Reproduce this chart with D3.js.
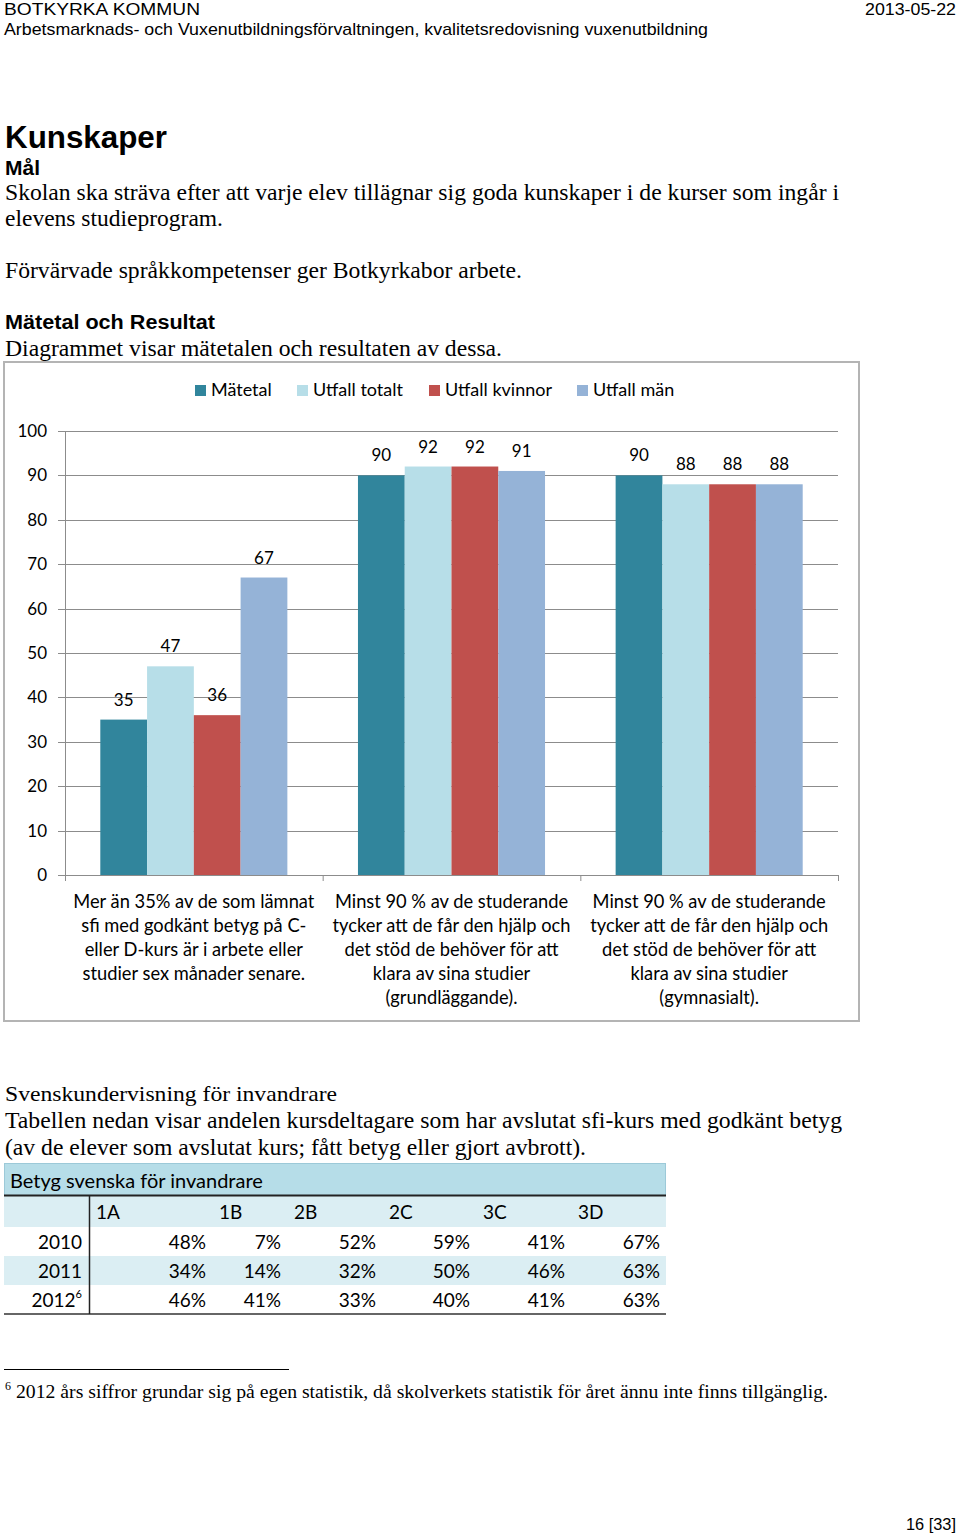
<!DOCTYPE html>
<html>
<head>
<meta charset="utf-8">
<script src="https://cdn.jsdelivr.net/npm/d3@7"></script>
<style>
  body { margin: 0; background: #fff; }
  svg { display: block; }
</style>
</head>
<body>
<svg id="page" width="960" height="1536"></svg>
<script>
// chart data
let seriesNames = ["Mätetal", "Utfall totalt", "Utfall kvinnor", "Utfall män"]
let seriesColors = ["#31859c", "#b7dee8", "#c0504d", "#95b3d7"]
let categories = ["sfi", "grund", "gymn"]
let categoryLines = [
  ["Mer än 35% av de som lämnat", "sfi med godkänt betyg på C-", "eller D-kurs är i arbete eller", "studier sex månader senare."],
  ["Minst 90 % av de studerande", "tycker att de får den hjälp och", "det stöd de behöver för att", "klara av sina studier", "(grundläggande)."],
  ["Minst 90 % av de studerande", "tycker att de får den hjälp och", "det stöd de behöver för att", "klara av sina studier", "(gymnasialt)."]
]
let matetal = [35, 90, 90]
let utfallTotalt = [47, 92, 88]
let utfallKvinnor = [36, 92, 88]
let utfallMan = [67, 91, 88]
let yTicks = [0, 10, 20, 30, 40, 50, 60, 70, 80, 90, 100]

// table data
let tableTitle = "Betyg svenska för invandrare"
let courses = ["1A", "1B", "2B", "2C", "3C", "3D"]
let years = ["2010", "2011", "2012"]
let yearNotes = ["", "", "6"]
let grades2010 = ["48%", "7%", "52%", "59%", "41%", "67%"]
let grades2011 = ["34%", "14%", "32%", "50%", "46%", "63%"]
let grades2012 = ["46%", "41%", "33%", "40%", "41%", "63%"]

let svg = d3.select("#page")
svg.append("rect").attr("width", 960).attr("height", 1536).attr("fill", "#fff")

let sans = "'Liberation Sans', Arial, sans-serif"
let serif = "'Liberation Serif', 'Times New Roman', serif"
let cal = "Lato, 'Open Sans', sans-serif"

// page text: [text, x, baseline, size, family, weight, width, anchor]
let pageText = [
  ["BOTKYRKA KOMMUN", 4, 15, 17, sans, "normal", 196, "start"],
  ["2013-05-22", 956, 15, 17, sans, "normal", 91, "end"],
  ["Arbetsmarknads- och Vuxenutbildningsförvaltningen, kvalitetsredovisning vuxenutbildning", 4, 35, 17, sans, "normal", 704, "start"],
  ["Kunskaper", 5, 148, 32, sans, "bold", 162, "start"],
  ["Mål", 5, 175, 20, sans, "bold", 35, "start"],
  ["Skolan ska sträva efter att varje elev tillägnar sig goda kunskaper i de kurser som ingår i", 5, 200, 23, serif, "normal", 834, "start"],
  ["elevens studieprogram.", 5, 226, 23, serif, "normal", 218, "start"],
  ["Förvärvade språkkompetenser ger Botkyrkabor arbete.", 5, 278, 23, serif, "normal", 517, "start"],
  ["Mätetal och Resultat", 5, 329, 20, sans, "bold", 210, "start"],
  ["Diagrammet visar mätetalen och resultaten av dessa.", 5, 356, 23, serif, "normal", 497, "start"],
  ["Svenskundervisning för invandrare", 5, 1101, 22, serif, "normal", 332, "start"],
  ["Tabellen nedan visar andelen kursdeltagare som har avslutat sfi-kurs med godkänt betyg", 5, 1128, 23, serif, "normal", 837, "start"],
  ["(av de elever som avslutat kurs; fått betyg eller gjort avbrott).", 5, 1155, 23, serif, "normal", 581, "start"],
  ["2012 års siffror grundar sig på egen statistik, då skolverkets statistik för året ännu inte finns tillgänglig.", 16, 1398, 19, serif, "normal", 812, "start"],
  ["16 [33]", 956, 1530, 17, sans, "normal", 50, "end"]
]

svg.selectAll("text.page").data(pageText).enter().append("text")
  .classed("page", true)
  .attr("x", d => d[1]).attr("y", d => d[2])
  .attr("font-size", d => d[3]).attr("font-family", d => d[4]).attr("font-weight", d => d[5])
  .attr("textLength", d => d[6]).attr("lengthAdjust", "spacingAndGlyphs")
  .attr("text-anchor", d => d[7])
  .attr("fill", "#000")
  .text(d => d[0])

// footnote marker and rule
svg.append("text").attr("x", 5).attr("y", 1390).attr("font-size", 12).attr("font-family", serif).text("6")
svg.append("line").attr("x1", 4).attr("x2", 289).attr("y1", 1369.5).attr("y2", 1369.5).attr("stroke", "#000").attr("stroke-width", 1)

// ---------- chart ----------
svg.append("rect").attr("x", 4).attr("y", 362).attr("width", 855).attr("height", 659)
  .attr("fill", "#fff").attr("stroke", "#b4b4b4").attr("stroke-width", 2)

let plotLeft = 65, plotRight = 838
let y = d3.scaleLinear().domain([0, 100]).range([875, 431])
let x0 = d3.scaleBand().domain(categories).range([plotLeft, plotRight])
let x1 = d3.scaleBand().domain(seriesNames).range([x0.bandwidth() * 0.137, x0.bandwidth() * 0.863])

let chart = svg.append("g")

// gridlines
chart.selectAll("line.grid").data(yTicks).enter().append("line")
  .attr("x1", plotLeft - 7).attr("x2", plotRight)
  .attr("y1", d => Math.round(y(d)) + 0.5).attr("y2", d => Math.round(y(d)) + 0.5)
  .attr("stroke", "#8c8c8c").attr("stroke-width", 1)

chart.append("line").attr("x1", plotLeft + 0.5).attr("x2", plotLeft + 0.5)
  .attr("y1", y(100)).attr("y2", y(0) + 6).attr("stroke", "#8c8c8c")

// category ticks
chart.selectAll("line.ctick").data(categories).enter().append("line")
  .attr("x1", d => x0(d) + x0.bandwidth() + 0.5).attr("x2", d => x0(d) + x0.bandwidth() + 0.5)
  .attr("y1", y(0)).attr("y2", y(0) + 6).attr("stroke", "#8c8c8c")

chart.selectAll("text.ytick").data(yTicks).enter().append("text")
  .attr("x", 47).attr("y", d => y(d) + 6)
  .attr("text-anchor", "end").attr("font-family", cal).attr("font-size", 17).attr("fill", "#000")
  .text(d => d)

// bars
let barData = []
categories.forEach(function (c, i) {
  barData.push({ cat: c, s: seriesNames[0], v: matetal[i], color: seriesColors[0] })
  barData.push({ cat: c, s: seriesNames[1], v: utfallTotalt[i], color: seriesColors[1] })
  barData.push({ cat: c, s: seriesNames[2], v: utfallKvinnor[i], color: seriesColors[2] })
  barData.push({ cat: c, s: seriesNames[3], v: utfallMan[i], color: seriesColors[3] })
})

chart.selectAll("rect.bar").data(barData).enter().append("rect")
  .attr("x", d => x0(d.cat) + x1(d.s))
  .attr("y", d => y(d.v))
  .attr("width", x1.bandwidth())
  .attr("height", d => y(0) - y(d.v))
  .attr("fill", d => d.color)

chart.selectAll("text.label").data(barData).enter().append("text")
  .attr("x", d => x0(d.cat) + x1(d.s) + x1.bandwidth() / 2)
  .attr("y", d => y(d.v) - 14)
  .attr("text-anchor", "middle").attr("font-family", cal).attr("font-size", 17).attr("fill", "#000")
  .text(d => d.v)

// category labels
let catGroups = chart.selectAll("text.cat").data(categories).enter().append("text")
  .attr("text-anchor", "middle").attr("font-family", cal).attr("font-size", 18.3).attr("fill", "#000")

catGroups.selectAll("tspan").data((d, i) => categoryLines[i].map(t => ({ t: t, cat: d })))
  .enter().append("tspan")
  .attr("x", d => x0(d.cat) + x0.bandwidth() / 2)
  .attr("y", (d, i) => 908 + i * 24)
  .text(d => d.t)

// legend
let legendX = [195, 297, 429, 577]
let legend = chart.selectAll("g.legend").data(seriesNames).enter().append("g")
  .attr("transform", (d, i) => `translate(${legendX[i]},385)`)
legend.append("rect").attr("width", 11).attr("height", 11).attr("fill", (d, i) => seriesColors[i])
legend.append("text").attr("x", 16).attr("y", 11).attr("font-family", cal).attr("font-size", 18).attr("fill", "#000")
  .text(d => d)

// ---------- table ----------
let colEdges = [4, 89, 212, 287, 382, 476, 571, 666]
let rowTops = [1163, 1196, 1227, 1256, 1285, 1314]
let rowFill = ["#b6dde8", "#dbeef3", "#ffffff", "#dbeef3", "#ffffff"]
let table = svg.append("g")

table.selectAll("rect.row").data(rowFill).enter().append("rect")
  .attr("x", colEdges[0]).attr("width", colEdges[7] - colEdges[0])
  .attr("y", (d, i) => rowTops[i]).attr("height", (d, i) => rowTops[i + 1] - rowTops[i])
  .attr("fill", d => d)

table.append("rect").attr("x", 4.5).attr("y", 1163.5).attr("width", 661).attr("height", 32)
  .attr("fill", "none").attr("stroke", "#9cc9d8").attr("stroke-width", 1)

table.append("line").attr("x1", 4).attr("x2", 666).attr("y1", 1195.5).attr("y2", 1195.5)
  .attr("stroke", "#222").attr("stroke-width", 2)
table.append("line").attr("x1", 4).attr("x2", 666).attr("y1", 1314).attr("y2", 1314)
  .attr("stroke", "#333").attr("stroke-width", 1.5)
table.append("line").attr("x1", 89.5).attr("x2", 89.5).attr("y1", 1196).attr("y2", 1314)
  .attr("stroke", "#222").attr("stroke-width", 1.5)

table.append("text").attr("x", 10).attr("y", 1188).attr("font-family", cal).attr("font-size", 20)
  .attr("fill", "#000").text(tableTitle)

table.selectAll("text.course").data(courses).enter().append("text")
  .attr("x", (d, i) => colEdges[i + 1] + 7).attr("y", 1219)
  .attr("font-family", cal).attr("font-size", 19).attr("fill", "#000").text(d => d)

let gradeRows = [grades2010, grades2011, grades2012]
let rowBase = [1249, 1278, 1307]

let yearText = table.selectAll("text.year").data(years).enter().append("text")
  .attr("x", 82).attr("y", (d, i) => rowBase[i]).attr("text-anchor", "end")
  .attr("font-family", cal).attr("font-size", 19).attr("fill", "#000")
yearText.append("tspan").text(d => d)
yearText.append("tspan").attr("font-size", 11).attr("dy", -9).text((d, i) => yearNotes[i])

gradeRows.forEach(function (row, r) {
  table.selectAll("text.g" + r).data(row).enter().append("text")
    .attr("x", (d, i) => colEdges[i + 2] - 6).attr("y", rowBase[r]).attr("text-anchor", "end")
    .attr("font-family", cal).attr("font-size", 19).attr("fill", "#000").text(d => d)
})
</script>
</body>
</html>
